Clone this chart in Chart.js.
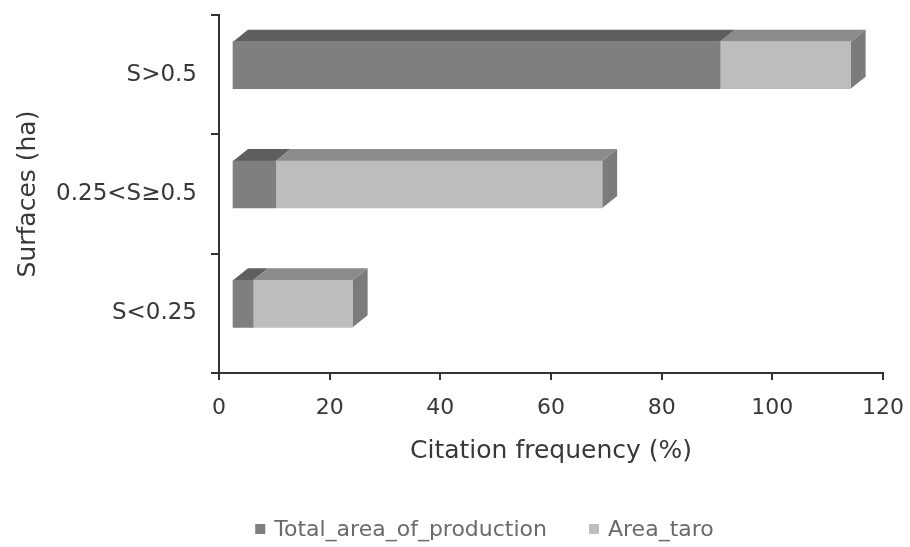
<!DOCTYPE html>
<html>
<head>
<meta charset="utf-8">
<script src="https://cdn.jsdelivr.net/npm/chart.js@4.4.1/dist/chart.umd.min.js"></script>
<style>
  html, body { margin: 0; padding: 0; background: #ffffff; }
  canvas { display: block; }
</style>
</head>
<body>
<canvas id="chart" width="910" height="547"></canvas>
<script>
// Surface classes (top to bottom) and citation frequencies (%)
const categories = ['S>0.5', '0.25<S≥0.5', 'S<0.25'];
const totalAreaOfProduction = [88.2, 7.9, 3.8];
const areaTaro = [23.6, 59.0, 18.0];
const seriesLabels = ['Total_area_of_production', 'Area_taro'];
const xTickValues = [0, 20, 40, 60, 80, 100, 120];

// Shading of the pseudo-3D blocks: front, top and end faces per series
const FRONT = ['#7f7f7f', '#bdbdbd'];
const TOP = ['#5f5f5f', '#8b8b8b'];
const SIDE = ['#6e6e6e', '#7b7b7b'];
const FRONT_SHIFT = { x: 13, y: -9.5 };
const DEPTH = { x: 15, y: -12 };

const FONT = '"DejaVu Sans", Verdana, sans-serif';
const TEXT = '#383838';
const AXIS = '#333333';

function fillPoly(ctx, pts, color) {
  ctx.beginPath();
  ctx.moveTo(pts[0][0], pts[0][1]);
  for (let i = 1; i < pts.length; i++) ctx.lineTo(pts[i][0], pts[i][1]);
  ctx.closePath();
  ctx.fillStyle = color;
  ctx.fill();
}

// Draws the top and end faces of each bar and offsets the front faces
const blocks3d = {
  id: 'blocks3d',
  beforeDatasetsDraw(chart) {
    const ctx = chart.ctx;
    ctx.save();
    ctx.translate(FRONT_SHIFT.x, FRONT_SHIFT.y);
    const metas = chart.getSortedVisibleDatasetMetas();
    const last = metas[metas.length - 1];
    last.data.forEach(bar => {
      const { x, y, height } = bar.getProps(['x', 'y', 'height'], true);
      const t = y - height / 2, b = y + height / 2;
      fillPoly(ctx, [[x, t], [x + DEPTH.x, t + DEPTH.y], [x + DEPTH.x, b + DEPTH.y], [x, b]], SIDE[last.index]);
    });
    metas.forEach(meta => {
      meta.data.forEach(bar => {
        const { x, base, y, height } = bar.getProps(['x', 'base', 'y', 'height'], true);
        const l = Math.min(x, base), r = Math.max(x, base), t = y - height / 2;
        fillPoly(ctx, [[l, t], [l + DEPTH.x, t + DEPTH.y], [r + DEPTH.x, t + DEPTH.y], [r, t]], TOP[meta.index]);
      });
    });
  },
  afterDatasetsDraw(chart) {
    chart.ctx.restore();
  }
};

// Legend row under the axis title
const LEGEND_CENTER_X = 484.5;
const LEGEND_Y = 529;
const legendRow = {
  id: 'legendRow',
  afterDraw(chart) {
    const ctx = chart.ctx;
    ctx.save();
    ctx.font = '22px ' + FONT;
    ctx.textBaseline = 'middle';
    ctx.textAlign = 'left';
    const box = 10, gapText = 9, gapItem = 42;
    const items = chart.data.datasets.map(ds => ({
      text: ds.label, color: ds.backgroundColor, w: ctx.measureText(ds.label).width
    }));
    const total = items.reduce((s, it) => s + box + gapText + it.w, 0) + gapItem * (items.length - 1);
    let x = LEGEND_CENTER_X - total / 2;
    items.forEach(it => {
      ctx.fillStyle = it.color;
      ctx.fillRect(x, LEGEND_Y - box / 2, box, box);
      x += box + gapText;
      ctx.fillStyle = '#6a6a6a';
      ctx.fillText(it.text, x, LEGEND_Y + 1);
      x += it.w + gapItem;
    });
    ctx.restore();
  }
};

new Chart(document.getElementById('chart'), {
  type: 'bar',
  data: {
    labels: categories,
    datasets: [
      { label: seriesLabels[0], data: totalAreaOfProduction, backgroundColor: FRONT[0], borderWidth: 0, barThickness: 47, clip: false },
      { label: seriesLabels[1], data: areaTaro, backgroundColor: FRONT[1], borderWidth: 0, barThickness: 47, clip: false }
    ]
  },
  options: {
    indexAxis: 'y',
    responsive: false,
    animation: false,
    devicePixelRatio: 1,
    layout: { padding: { left: 0, right: 27, top: 15, bottom: 81 } },
    plugins: {
      legend: { display: false },
      tooltip: { enabled: false }
    },
    scales: {
      x: {
        type: 'linear',
        stacked: true,
        min: 0,
        max: 120,
        afterBuildTicks(scale) {
          scale.ticks = xTickValues.map(v => ({ value: v }));
        },
        afterFit(scale) {
          scale.height = 93;
          scale.paddingLeft = 0;
          scale.paddingRight = 0;
        },
        border: { display: true, color: AXIS, width: 2 },
        grid: { display: true, drawOnChartArea: false, drawTicks: true, tickLength: 7, color: AXIS, lineWidth: 2 },
        ticks: { font: { family: FONT, size: 22 }, color: TEXT, padding: 15, maxRotation: 0 },
        title: {
          display: true,
          text: 'Citation frequency (%)',
          font: { family: FONT, size: 25 },
          color: TEXT,
          padding: { top: 0, bottom: 0 }
        }
      },
      y: {
        type: 'category',
        stacked: true,
        afterFit(scale) {
          scale.width = 219;
          scale.paddingTop = 0;
          scale.paddingBottom = 0;
        },
        border: { display: true, color: AXIS, width: 2 },
        grid: { display: true, drawOnChartArea: false, drawTicks: true, tickLength: 8, color: AXIS, lineWidth: 2 },
        ticks: { font: { family: FONT, size: 23 }, color: TEXT, padding: 14 },
        title: {
          display: true,
          text: 'Surfaces (ha)',
          font: { family: FONT, size: 25 },
          color: TEXT,
          padding: { top: 13, bottom: 0 }
        }
      }
    }
  },
  plugins: [blocks3d, legendRow]
});
</script>
</body>
</html>
